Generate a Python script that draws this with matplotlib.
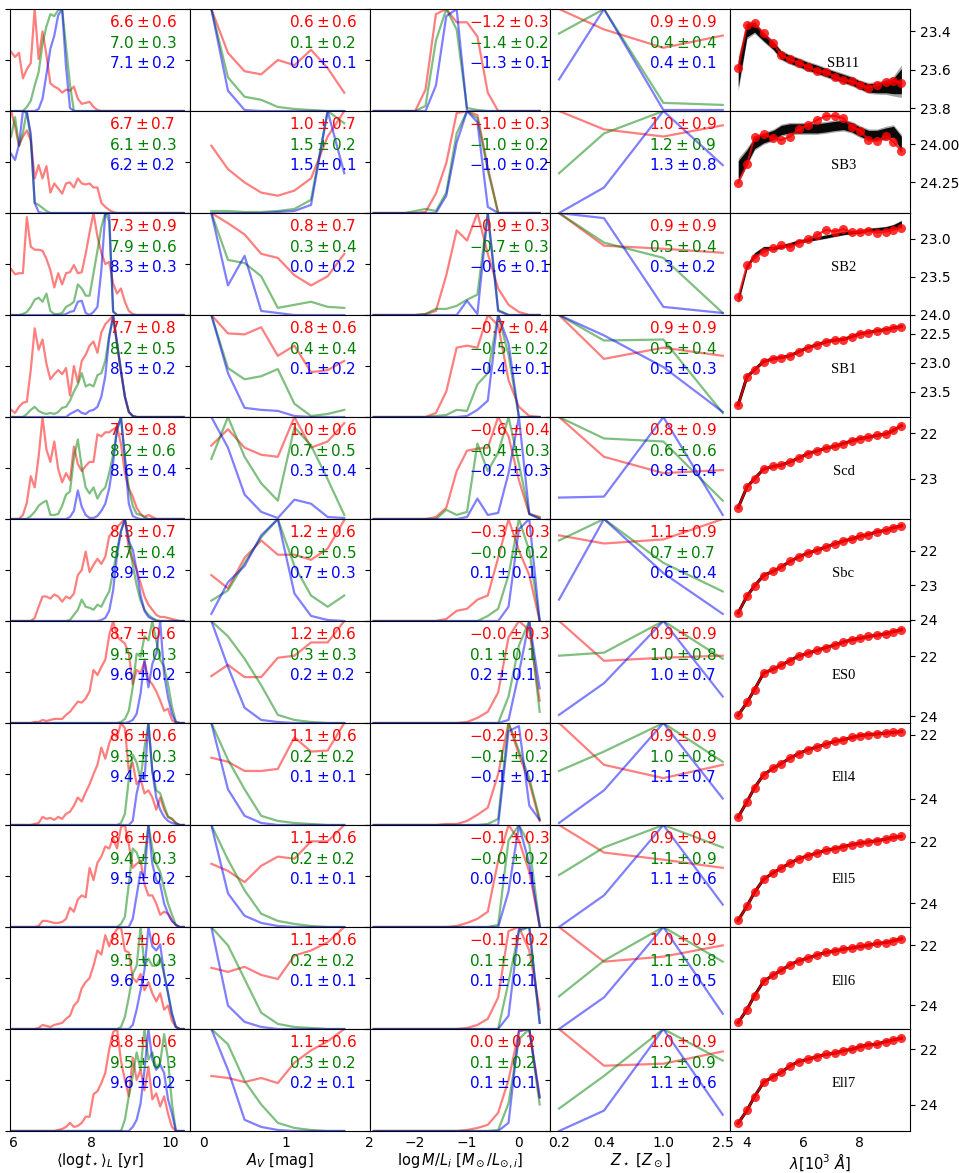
import matplotlib
matplotlib.use("Agg")
import matplotlib.pyplot as plt
from matplotlib.ticker import NullLocator

# ---------------- grids ----------------
age_grid = [5.95, 6.05, 6.15, 6.25, 6.35, 6.45, 6.55, 6.65, 6.75, 6.85,
            6.95, 7.05, 7.15, 7.25, 7.35, 7.45, 7.55, 7.65, 7.75, 7.85,
            7.95, 8.05, 8.15, 8.25, 8.35, 8.45, 8.55, 8.65, 8.75, 8.85,
            8.95, 9.05, 9.15, 9.25, 9.35, 9.45, 9.55, 9.65, 9.75, 9.85,
            9.95, 10.05, 10.15, 10.25, 10.35]
av_grid = [0.1, 0.3, 0.5, 0.7, 0.9, 1.1, 1.3, 1.5, 1.7]
ml_grid = [-2.8, -2.6, -2.4, -2.2, -2.0, -1.8, -1.6, -1.4, -1.2, -1.0,
           -0.8, -0.6, -0.4, -0.2, 0.0, 0.2, 0.4]
z_grid = [0.2, 0.4, 1.0, 2.5]
lam_grid = [3.69, 4.0, 4.27, 4.59, 4.94, 5.22, 5.53, 5.84, 6.16, 6.5,
            6.81, 7.12, 7.43, 7.73, 8.03, 8.32, 8.62, 8.94, 9.21, 9.49]

names = ["SB11", "SB3", "SB2", "SB1", "Scd", "Sbc", "ES0", "Ell4", "Ell5", "Ell6", "Ell7"]

# ---------------- column 1: <log t*>_L ----------------
age_red = [
 [0.58,0.53,0.57,0.32,0.41, 0.47,1.00,0.51,0.78,0.55, 0.27,0.24,0.22,0.18,0.21, 0.20,0.24,0.12,0.07,0.08,
  0.09,0.04,0.01,0,0, 0,0,0,0,0, 0,0,0,0,0, 0,0,0,0,0, 0,0,0,0,0],
 [1.00,0.85,0.66,0.75,0.81, 0.71,0.34,0.47,0.34,0.46, 0.20,0.29,0.24,0.19,0.29, 0.30,0.25,0.34,0.29,0.28,
  0.29,0.25,0.25,0.10,0.06, 0.03,0.01,0,0,0, 0,0,0,0,0, 0,0,0,0,0, 0,0,0,0,0],
 [0.45,0.40,0.41,0.41,0.96, 0.67,0.64,0.64,0.63,0.55, 0.44,0.27,0.41,0.30,0.41, 0.42,0.49,0.41,0.42,0.60,
  0.81,1.00,0.77,0.61,0.50, 0.52,0.31,0.21,0.26,0.13, 0.04,0.01,0,0,0, 0,0,0,0,0, 0,0,0,0,0],
 [0.07,0.04,0.10,0.14,0.15, 0.46,0.87,0.66,0.76,0.52, 0.37,0.42,0.46,0.42,0.48, 0.21,0.50,0.34,0.55,0.61,
  0.70,0.74,0.63,0.83,0.91, 0.95,1.00,0.72,0.45,0.20, 0.05,0.01,0,0,0, 0,0,0,0,0, 0,0,0,0,0],
 [0,0,0,0.04,0.16, 0.42,0.31,0.61,1.00,0.68, 0.56,0.76,0.49,0.36,0.45, 0.38,0.71,0.54,0.47,0.52,
  0.56,0.56,0.83,0.81,0.85, 0.85,0.88,0.90,0.74,0.45, 0.30,0.22,0.11,0.05,0.02, 0.04,0.02,0,0,0, 0,0,0,0,0],
 [0,0,0,0,0, 0,0.03,0.14,0.24,0.24, 0.22,0.26,0.24,0.19,0.24, 0.22,0.27,0.45,0.50,0.68,
  0.48,0.55,0.61,0.56,0.63, 0.83,0.88,0.92,0.96,1.00, 0.70,0.60,0.50,0.37,0.24, 0.16,0.11,0.06,0.04,0.04, 0.03,0.02,0.01,0,0],
 [0,0,0,0,0, 0,0.01,0.01,0.03,0.02, 0.03,0.04,0.04,0.04,0.08, 0.11,0.16,0.21,0.20,0.24,
  0.31,0.52,0.47,0.55,0.62, 0.86,1.00,0.85,0.81,0.78, 0.68,0.38,0.52,0.49,0.60, 0.42,0.38,0.31,0.22,0.12, 0.14,0.03,0,0,0],
 [0,0,0,0,0, 0,0.01,0.02,0.08,0.06, 0.07,0.05,0.08,0.06,0.11, 0.13,0.19,0.27,0.23,0.32,
  0.40,0.50,0.59,0.76,0.65, 0.80,0.90,0.86,1.00,0.95, 0.53,0.61,0.40,0.45,0.31, 0.34,0.27,0.15,0.27,0.15, 0.08,0.06,0.02,0,0],
 [0,0,0,0,0, 0,0,0.01,0.06,0.06, 0.05,0.04,0.04,0.05,0.08, 0.19,0.15,0.27,0.31,0.29,
  0.58,0.46,0.63,0.69,0.79, 0.77,0.87,0.77,0.98,1.00, 0.81,0.58,0.62,0.65,0.42, 0.31,0.31,0.23,0.12,0.15, 0.13,0.06,0.02,0,0],
 [0,0,0,0,0, 0,0,0.01,0.04,0.03, 0.02,0.04,0.05,0.06,0.10, 0.13,0.23,0.27,0.40,0.46,
  0.50,0.62,0.77,0.73,0.92, 0.81,0.92,0.98,1.00,0.77, 0.75,0.50,0.46,0.54,0.38, 0.46,0.35,0.27,0.35,0.19, 0.23,0.08,0.02,0,0],
 [0,0,0,0,0, 0,0,0,0,0, 0,0,0.01,0.02,0.04, 0.08,0.04,0.05,0.08,0.14,
  0.14,0.36,0.39,0.47,0.57, 0.80,0.97,1.00,0.69,0.50, 0.34,0.72,0.50,0.60,0.40, 0.63,0.31,0.37,0.24,0.34, 0.17,0.04,0,0,0],
]
age_green = [
 [0,0,0,0,0.04, 0.10,0.25,0.38,0.66,0.83, 0.95,0.93,0.99,1.00,0.63, 0.26,0,0,0,0,
  0,0,0,0,0, 0,0,0,0,0, 0,0,0,0,0, 0,0,0,0,0, 0,0,0,0,0],
 [0.75,0.94,0.66,0.79,1.00, 0.72,0.10,0.08,0.05,0.02, 0,0,0,0,0, 0,0,0,0,0,
  0,0,0,0,0, 0,0,0,0,0, 0,0,0,0,0, 0,0,0,0,0, 0,0,0,0,0],
 [0,0,0,0.01,0.03, 0.08,0.15,0.17,0.13,0.21, 0.04,0.01,0.01,0.02,0.08, 0.10,0.13,0.30,0.26,0.19,
  0.19,0.41,0.63,0.86,1.00, 0.92,0.04,0,0,0, 0,0,0,0,0, 0,0,0,0,0, 0,0,0,0,0],
 [0,0,0,0,0.03, 0.07,0.10,0.06,0.04,0.03, 0.04,0.03,0.05,0.09,0.10, 0.16,0.25,0.32,0.43,0.30,
  0.32,0.30,0.41,0.43,0.55, 0.80,0.97,0.72,0.45,0.20, 0.05,0.01,0,0,0, 0,0,0,0,0, 0,0,0,0,0],
 [0,0,0,0,0, 0.03,0.07,0.13,0.16,0.18, 0.04,0.04,0.05,0.13,0.24, 0.27,0.60,0.78,0.51,0.31,
  0.25,0.31,0.20,0.27,0.31, 0.45,0.63,0.87,1.00,0.60, 0.30,0.13,0.05,0.04,0.02, 0,0,0,0,0, 0,0,0,0,0],
 [0,0,0,0,0, 0,0,0,0,0, 0,0,0,0,0, 0.01,0.06,0.11,0.21,0.14,
  0.13,0.11,0.16,0.14,0.22, 0.29,0.48,0.70,0.88,1.00, 0.80,0.55,0.35,0.20,0.11, 0.06,0.03,0.01,0,0, 0,0,0,0,0],
 [0,0,0,0,0, 0,0,0,0,0, 0,0,0,0,0, 0,0,0,0,0,
  0,0,0,0,0, 0,0,0,0.01,0.04, 0.12,0.35,0.68,0.65,0.85, 0.81,1.00,0.81,0.62,0.55, 0.38,0.16,0.01,0,0],
 [0,0,0,0,0, 0,0,0,0,0, 0,0,0,0,0, 0,0,0,0,0,
  0,0,0,0,0, 0,0,0,0.02,0.11, 0.45,0.69,0.61,0.45,0.76, 1.00,0.53,0.34,0.31,0.19, 0.08,0.06,0.02,0,0],
 [0,0,0,0,0, 0,0,0,0,0, 0,0,0,0,0, 0,0,0,0,0,
  0,0,0,0,0, 0,0,0,0.03,0.10, 0.42,0.77,0.73,0.62,0.69, 1.00,0.77,0.62,0.54,0.38, 0.23,0.12,0.02,0,0],
 [0,0,0,0,0, 0,0,0,0,0, 0,0,0,0,0, 0,0,0,0,0,
  0,0,0,0,0, 0,0,0,0.02,0.12, 0.31,0.54,0.62,1.00,0.62, 0.69,0.62,0.62,0.69,0.54, 0.35,0.15,0.02,0,0],
 [0,0,0,0,0, 0,0,0,0,0, 0,0,0,0,0, 0,0,0,0,0,
  0,0,0,0,0, 0,0,0,0,0.11, 0.34,0.54,0.77,0.60,1.00, 0.70,0.77,0.62,0.67,0.95, 0.70,0.27,0,0,0],
]
age_blue = [
 [0,0,0,0,0, 0,0,0.02,0.12,0.36, 0.61,0.74,0.94,1.00,0.43, 0.03,0,0,0,0,
  0,0,0,0,0, 0,0,0,0,0, 0,0,0,0,0, 0,0,0,0,0, 0,0,0,0,0],
 [0.58,0.52,0.67,1.00,0.98, 0.78,0.10,0.01,0,0, 0,0,0,0,0, 0,0,0,0,0,
  0,0,0,0,0, 0,0,0,0,0, 0,0,0,0,0, 0,0,0,0,0, 0,0,0,0,0],
 [0,0,0,0,0, 0,0,0,0,0, 0,0,0,0,0.01, 0.03,0.04,0.13,0.14,0.02,
  0,0.03,0.08,0.44,1.00, 0.98,0.03,0,0,0, 0,0,0,0,0, 0,0,0,0,0, 0,0,0,0,0],
 [0,0,0,0,0, 0,0,0,0,0, 0,0,0,0,0, 0.03,0.05,0.07,0.04,0.03,
  0.06,0.07,0.10,0.20,0.40, 0.78,1.00,0.72,0.45,0.20, 0.05,0.01,0,0,0, 0,0,0,0,0, 0,0,0,0,0],
 [0,0,0,0,0, 0,0,0,0,0, 0,0,0,0,0, 0.02,0.08,0.28,0.12,0.04,
  0.01,0.01,0.03,0.08,0.15, 0.30,0.55,0.88,1.00,0.60, 0.15,0.03,0.01,0,0, 0,0,0,0,0, 0,0,0,0,0],
 [0,0,0,0,0, 0,0,0,0,0, 0,0,0,0,0, 0,0,0,0,0,
  0,0,0,0.01,0.03, 0.10,0.30,0.65,0.88,1.00, 0.78,0.70,0.50,0.25,0.10, 0.04,0.02,0,0,0, 0,0,0,0,0],
 [0,0,0,0,0, 0,0,0,0,0, 0,0,0,0,0, 0,0,0,0,0,
  0,0,0,0,0, 0,0,0,0,0, 0.01,0.03,0.09,0.29,0.62, 0.35,0.58,0.68,1.00,0.48, 0.25,0.09,0.01,0,0],
 [0,0,0,0,0, 0,0,0,0,0, 0,0,0,0,0, 0,0,0,0,0,
  0,0,0,0,0, 0,0,0,0,0, 0,0.04,0.31,0.47,0.45, 1.00,0.52,0.27,0.15,0.08, 0.04,0.02,0.01,0,0],
 [0,0,0,0,0, 0,0,0,0,0, 0,0,0,0,0, 0,0,0,0,0,
  0,0,0,0,0, 0,0,0,0,0, 0,0.08,0.31,0.54,0.50, 1.00,0.62,0.46,0.42,0.23, 0.13,0.06,0.02,0,0],
 [0,0,0,0,0, 0,0,0,0,0, 0,0,0,0,0, 0,0,0,0,0,
  0,0,0,0,0, 0,0,0,0,0, 0,0.04,0.19,0.38,0.58, 1.00,0.81,0.77,0.83,0.54, 0.35,0.15,0.02,0,0],
 [0,0,0,0,0, 0,0,0,0,0, 0,0,0,0,0, 0,0,0,0,0,
  0,0,0,0,0, 0,0,0,0,0, 0,0.04,0.11,0.27,0.60, 1.00,0.70,0.60,0.65,0.57, 0.31,0.17,0,0,0],
]

# ---------------- column 2: A_V ----------------
av_red = [
 [1.0,0.57,0.39,0.36,0.5,0.45,0.6,0.42,0.18],
 [0.66,0.43,0.3,0.2,0.17,0.22,0.34,0.75,1.0],
 [1.0,0.9,0.79,0.6,0.56,0.39,0.29,0.38,0.6],
 [1.0,0.82,0.81,0.88,0.6,0.7,0.44,0.46,0.55],
 [0.72,0.88,0.7,0.63,0.61,1.0,0.7,0.76,0.94],
 [0.45,0.32,0.62,0.79,0.65,0.65,0.6,0.71,0.99],
 [0.46,0.57,0.45,0.45,0.64,0.66,0.79,0.79,1.0],
 [0.66,0.62,0.53,0.53,0.55,0.86,0.72,0.73,1.0],
 [0.62,0.55,0.44,0.6,0.69,0.67,0.84,0.84,1.0],
 [0.6,0.56,0.61,0.53,0.49,0.72,0.77,0.85,1.0],
 [0.54,0.52,0.48,0.52,0.47,0.67,0.79,0.88,1.0],
]
av_green = [
 [1.0,0.33,0.14,0.11,0.04,0.02,0.01,0,0],
 [0.02,0.02,0.01,0.01,0.02,0.04,0.13,1.0,0.88],
 [1.0,0.54,0.51,0.38,0.07,0.1,0.13,0.08,0.07],
 [1.0,0.48,0.37,0.4,0.47,0.13,0.01,0.03,0.07],
 [0.59,1.0,0.61,0.35,0.18,0.9,0.72,0.39,0.04],
 [0.2,0.3,0.57,0.82,1.0,0.54,0.25,0.14,0.25],
 [1.0,0.85,0.63,0.37,0.08,0.03,0.01,0,0],
 [1.0,0.64,0.35,0.09,0.04,0.02,0.01,0,0],
 [1.0,0.66,0.36,0.13,0.06,0.03,0.01,0,0],
 [1.0,0.82,0.49,0.16,0.05,0.02,0.01,0,0],
 [1.0,0.85,0.49,0.26,0.08,0.03,0.01,0,0],
]
av_blue = [
 [1.0,0.2,0.01,0,0,0,0,0,0],
 [0,0,0,0,0.01,0.02,0.08,1.0,0.39],
 [1.0,0.29,0.58,0.04,0.02,0,0,0,0],
 [1.0,0.43,0.09,0.07,0.06,0.01,0,0,0],
 [1.0,0.7,0.24,0.07,0.01,0.19,0.15,0.02,0.01],
 [0.07,0.38,0.54,0.84,1.0,0.27,0.05,0.01,0],
 [1.0,0.55,0.15,0.03,0.01,0,0,0,0],
 [1.0,0.35,0.09,0.02,0,0,0,0,0],
 [1.0,0.33,0.11,0.04,0.01,0,0,0,0],
 [1.0,0.23,0.07,0.02,0,0,0,0,0],
 [1.0,0.6,0.11,0.04,0.01,0,0,0,0],
]

# ---------------- column 3: log M/L ----------------
ml_red = [
 [0,0,0,0,0,0.21,0.95,1.0,0.87,0.87,0.73,0.18,0,0,0,0,0],
 [0,0,0,0,0,0.01,0.19,0.49,0.98,1.0,0.96,0.45,0,0,0,0,0],
 [0,0,0,0,0,0.01,0.04,0.39,0.83,0.73,1.0,0.6,0.26,0.1,0.03,0,0],
 [0,0,0,0,0,0,0.04,0.25,0.68,0.7,0.68,1.0,0.9,0.36,0.1,0.01,0],
 [0,0,0,0,0,0,0.02,0.11,0.47,0.67,0.69,0.7,1.0,0.81,0.38,0.05,0.02],
 [0,0,0,0,0,0,0,0.02,0.1,0.12,0.21,0.25,0.62,1.0,0.69,0.45,0],
 [0,0,0,0,0,0,0,0,0,0.01,0.05,0.11,0.3,0.84,1.0,0.91,0.22],
 [0,0,0,0,0,0,0,0.01,0.01,0.04,0.1,0.17,0.5,1.0,0.69,0.42,0.04],
 [0,0,0,0,0,0,0,0,0.01,0.04,0.08,0.15,0.65,1.0,0.85,0.54,0.01],
 [0,0,0,0,0,0,0,0,0,0.01,0.04,0.1,0.31,0.96,1.0,0.77,0.19],
 [0,0,0,0,0,0,0,0,0,0.01,0.03,0.06,0.18,0.5,0.98,1.0,0.33],
]
ml_green = [
 [0,0,0,0,0,0.05,0.69,1.0,0.8,0.03,0.01,0,0,0,0,0,0],
 [0,0,0,0,0.02,0.04,0.02,0.2,0.78,1.0,0.93,0.42,0,0,0,0,0],
 [0,0,0,0,0,0.01,0.06,0.06,0.09,0.15,0.2,1.0,0.05,0,0,0,0],
 [0,0,0,0,0,0,0.01,0.02,0.07,0.06,0.32,0.43,1.0,0.61,0,0,0],
 [0,0,0,0,0,0,0,0.09,0.04,0.07,0.74,0.47,0.65,1.0,0.54,0.05,0.01],
 [0,0,0,0,0,0,0,0,0,0,0,0.05,0.12,0.45,1.0,0.69,0],
 [0,0,0,0,0,0,0,0,0,0,0,0,0,0.26,0.76,1.0,0.11],
 [0,0,0,0,0,0,0,0,0,0,0,0.01,0.06,1.0,0.73,0.46,0.06],
 [0,0,0,0,0,0,0,0,0,0,0,0,0.02,0.85,1.0,0.81,0.01],
 [0,0,0,0,0,0,0,0,0,0,0,0,0,0.46,0.96,1.0,0.06],
 [0,0,0,0,0,0,0,0,0,0,0,0,0.01,0.27,0.9,1.0,0.26],
]
ml_blue = [
 [0,0,0,0,0,0,0.25,0.93,1.0,0,0,0,0,0,0,0,0],
 [0,0,0,0,0,0,0,0.17,0.69,1.0,0.89,0.06,0,0,0,0,0],
 [0,0,0,0,0,0,0,0,0,0.14,0.01,1.0,0.04,0,0,0,0],
 [0,0,0,0,0,0,0,0,0,0.01,0.07,0.16,1.0,0.72,0,0,0],
 [0,0,0,0,0,0,0,0,0,0.02,0.2,0.04,0.06,0.45,1.0,0.05,0],
 [0,0,0,0,0,0,0,0,0,0,0,0,0,0.14,0.9,1.0,0],
 [0,0,0,0,0,0,0,0,0,0,0,0,0,0.03,0.49,1.0,0.34],
 [0,0,0,0,0,0,0,0,0,0,0,0,0,0.92,0.97,0.19,0.05],
 [0,0,0,0,0,0,0,0,0,0,0,0,0,0.35,1.0,0.62,0.01],
 [0,0,0,0,0,0,0,0,0,0,0,0,0,0.13,0.98,1.0,0.06],
 [0,0,0,0,0,0,0,0,0,0,0,0,0,0.08,0.98,1.0,0.33],
]

# ---------------- column 4: Z* ----------------
z_red = [[1.0,0.8,0.62,0.74],[1.0,0.82,0.75,0.86],[1.0,0.68,0.65,0.61],[1.0,0.57,0.68,0.6],
         [1.0,0.61,0.45,0.48],[0.84,0.76,0.8,1.0],[1.0,0.61,0.64,0.66],[1.0,0.59,0.46,0.59],
         [1.0,0.73,0.66,0.58],[1.0,0.66,0.71,0.82],[1.0,0.64,0.66,0.78]]
z_green = [[0.76,1.0,0.08,0.06],[0.39,0.78,1.0,1.0],[1.0,0.71,0.56,0.02],[1.0,0.75,0.76,0.04],
           [1.0,0.79,0.76,0.18],[0.79,1.0,0.57,0.29],[0.66,0.69,1.0,0.63],[0.53,0.72,1.0,0.62],
           [0.51,0.78,1.0,0.78],[0.32,0.67,1.0,0.66],[0.22,0.54,1.0,0.69]]
z_blue = [[0.31,1.0,0.01,0.01],[0.0,0.25,1.0,0.47],[1.0,0.95,0.08,0.02],[1.0,0.8,0.49,0.05],
          [0.21,0.22,1.0,0.04],[0.21,1.0,0.47,0.07],[0.08,0.39,1.0,0.26],[0.02,0.34,1.0,0.26],
          [0.0,0.31,1.0,0.22],[0.0,0.31,1.0,0.15],[0.0,0.2,1.0,0.16]]

# ---------------- column texts (mean, sigma) ----------------
age_txt = [[("6.6","0.6"),("7.0","0.3"),("7.1","0.2")],[("6.7","0.7"),("6.1","0.3"),("6.2","0.2")],
           [("7.3","0.9"),("7.9","0.6"),("8.3","0.3")],[("7.7","0.8"),("8.2","0.5"),("8.5","0.2")],
           [("7.9","0.8"),("8.2","0.6"),("8.6","0.4")],[("8.3","0.7"),("8.7","0.4"),("8.9","0.2")],
           [("8.7","0.6"),("9.5","0.3"),("9.6","0.2")],[("8.6","0.6"),("9.3","0.3"),("9.4","0.2")],
           [("8.6","0.6"),("9.4","0.3"),("9.5","0.2")],[("8.7","0.6"),("9.5","0.3"),("9.6","0.2")],
           [("8.8","0.6"),("9.5","0.3"),("9.6","0.2")]]
av_txt = [[("0.6","0.6"),("0.1","0.2"),("0.0","0.1")],[("1.0","0.7"),("1.5","0.2"),("1.5","0.1")],
          [("0.8","0.7"),("0.3","0.4"),("0.0","0.2")],[("0.8","0.6"),("0.4","0.4"),("0.1","0.2")],
          [("1.0","0.6"),("0.7","0.5"),("0.3","0.4")],[("1.2","0.6"),("0.9","0.5"),("0.7","0.3")],
          [("1.2","0.6"),("0.3","0.3"),("0.2","0.2")],[("1.1","0.6"),("0.2","0.2"),("0.1","0.1")],
          [("1.1","0.6"),("0.2","0.2"),("0.1","0.1")],[("1.1","0.6"),("0.2","0.2"),("0.1","0.1")],
          [("1.1","0.6"),("0.3","0.2"),("0.2","0.1")]]
ml_txt = [[("-1.2","0.3"),("-1.4","0.2"),("-1.3","0.1")],[("-1.0","0.3"),("-1.0","0.2"),("-1.0","0.2")],
          [("-0.9","0.3"),("-0.7","0.3"),("-0.6","0.1")],[("-0.7","0.4"),("-0.5","0.2"),("-0.4","0.1")],
          [("-0.6","0.4"),("-0.4","0.3"),("-0.2","0.3")],[("-0.3","0.3"),("-0.0","0.2"),("0.1","0.1")],
          [("-0.0","0.3"),("0.1","0.1"),("0.2","0.1")],[("-0.2","0.3"),("-0.1","0.2"),("-0.1","0.1")],
          [("-0.1","0.3"),("-0.0","0.2"),("0.0","0.1")],[("-0.1","0.2"),("0.1","0.2"),("0.1","0.1")],
          [("0.0","0.2"),("0.1","0.2"),("0.1","0.1")]]
z_txt = [[("0.9","0.9"),("0.4","0.4"),("0.4","0.1")],[("1.0","0.9"),("1.2","0.9"),("1.3","0.8")],
         [("0.9","0.9"),("0.5","0.4"),("0.3","0.2")],[("0.9","0.9"),("0.5","0.4"),("0.5","0.3")],
         [("0.8","0.9"),("0.6","0.6"),("0.8","0.4")],[("1.1","0.9"),("0.7","0.7"),("0.6","0.4")],
         [("0.9","0.9"),("1.0","0.8"),("1.0","0.7")],[("0.9","0.9"),("1.0","0.8"),("1.1","0.7")],
         [("0.9","0.9"),("1.1","0.9"),("1.1","0.6")],[("1.0","0.9"),("1.1","0.8"),("1.0","0.5")],
         [("1.0","0.9"),("1.2","0.9"),("1.1","0.6")]]

# ---------------- column 5: spectra (magnitudes) ----------------
spec_obs = [
 [23.594,23.369,23.36,23.412,23.464,23.525,23.547,23.565,23.585,23.606,23.611,23.637,23.655,23.66,23.68,23.695,23.68,23.663,23.658,23.669],
 [24.253,24.133,23.956,23.937,23.963,23.974,23.952,23.904,23.876,23.843,23.817,23.817,23.832,23.887,23.915,23.974,23.98,23.948,23.985,24.046],
 [23.772,23.351,23.254,23.175,23.122,23.088,23.114,23.057,23.004,22.947,22.882,22.904,22.872,22.912,22.904,22.895,22.917,22.904,22.882,22.851],
 [23.72,23.24,23.12,22.98,22.93,22.91,22.88,22.81,22.74,22.69,22.64,22.61,22.6,22.55,22.5,22.48,22.45,22.43,22.4,22.38],
 [23.63,23.18,23.0,22.79,22.73,22.7,22.63,22.55,22.45,22.39,22.33,22.29,22.23,22.17,22.12,22.09,22.05,22.02,21.94,21.84],
 [23.8,23.32,23.02,22.72,22.59,22.47,22.31,22.18,22.07,21.98,21.89,21.8,21.72,21.66,21.58,21.53,21.45,21.41,21.33,21.28],
 [23.96,23.54,23.11,22.57,22.43,22.3,22.15,22.0,21.91,21.81,21.72,21.63,21.54,21.46,21.41,21.35,21.31,21.26,21.19,21.13],
 [24.56,24.09,23.65,23.25,23.04,22.9,22.73,22.59,22.47,22.38,22.3,22.21,22.16,22.09,22.03,22.0,21.98,21.95,21.93,21.91],
 [24.55,24.09,23.64,23.22,23.0,22.85,22.69,22.55,22.45,22.36,22.27,22.22,22.15,22.09,22.04,22.0,21.96,21.91,21.85,21.82],
 [24.58,24.15,23.68,23.21,22.99,22.84,22.65,22.52,22.43,22.32,22.24,22.19,22.13,22.09,22.04,22.0,21.94,21.91,21.85,21.78],
 [24.66,24.2,23.7,23.19,22.98,22.83,22.6,22.44,22.36,22.26,22.18,22.14,22.05,22.0,21.9,21.84,21.82,21.72,21.66,21.6],
]
spec_model_top = [
 [23.62,23.395,23.38,23.43,23.475,23.525,23.547,23.563,23.582,23.598,23.615,23.63,23.645,23.66,23.68,23.695,23.695,23.69,23.685,23.66],
 [24.17,24.083,23.995,23.963,23.941,23.909,23.898,23.898,23.898,23.898,23.891,23.882,23.876,23.891,23.92,23.941,23.941,23.93,23.92,23.995],
 [23.803,23.364,23.21,23.123,23.123,23.101,23.07,23.035,23.013,22.991,22.97,22.947,22.925,22.912,22.904,22.882,22.873,22.86,22.838,22.803],
]
spec_band = [
 [0.07,0.035,0.025,0.02,0.02,0.02,0.02,0.02,0.02,0.02,0.02,0.02,0.02,0.02,0.02,0.022,0.025,0.03,0.04,0.065],
 [0.06,0.045,0.035,0.03,0.03,0.03,0.03,0.03,0.03,0.03,0.03,0.03,0.03,0.03,0.03,0.03,0.03,0.035,0.035,0.045],
 [0.04,0.03,0.025,0.02,0.02,0.02,0.02,0.02,0.02,0.02,0.02,0.02,0.02,0.02,0.02,0.02,0.02,0.02,0.025,0.04],
]
spec_ylim = [(23.815,23.285),(24.45,23.785),(24.005,22.66),(23.93,22.18),(23.88,21.65),(24.04,21.08),
             (24.22,20.84),(24.81,21.64),(24.77,21.45),(24.80,21.39),(24.94,21.27)]
spec_yticks = [[23.4,23.6,23.8],[24.0,24.25],[23.0,23.5,24.0],[22.5,23.0,23.5],[22,23],[22,23,24],
               [22,24],[22,24],[22,24],[22,24],[22,24]]
spec_ylabels = [["23.4","23.6","23.8"],["24.00","24.25"],["23.0","23.5","24.0"],["22.5","23.0","23.5"],
                ["22","23"],["22","23","24"],["22","24"],["22","24"],["22","24"],["22","24"],["22","24"]]

# ---------------- figure ----------------
plt.rcParams['font.family'] = ['DejaVu Sans']
fig, axes = plt.subplots(11, 5, figsize=(9.59, 11.73), dpi=100)
fig.subplots_adjust(left=0.0104, right=0.949, top=0.9923, bottom=0.0358, wspace=0, hspace=0)

cols = ['red', 'green', 'blue']
lw = 1.6
al = 0.5
tfs = 11
xlims = [(5.92, 10.51), (-0.157, 2.01), (-2.87, 0.6), (0.174, 2.8), (3.4, 9.8)]
xt = [[6, 8, 10], [0, 1, 2], [-2, -1, 0], [0.2, 0.4, 1.0, 2.5], [4, 6, 8]]
xtl = [["6", "8", "10"], ["0", "1", "2"], ["\u22122", "\u22121", "0"], ["0.2", "0.4", "1.0", "2.5"], ["4", "6", "8"]]
xlabels = [r'$\langle {\rm log} t_\star\rangle_L$ [yr]', r'$A_V$ [mag]',
           r'$\log M/L_i$ $[M_\odot/L_{\odot,i}]$', r'$Z_\star$ $[Z_\odot]$', r'$\lambda [10^3\ \AA]$']

dist = [(age_grid, age_red, age_green, age_blue, age_txt),
        (av_grid, av_red, av_green, av_blue, av_txt),
        (ml_grid, ml_red, ml_green, ml_blue, ml_txt),
        (z_grid, z_red, z_green, z_blue, z_txt)]

for r in range(11):
    for c in range(5):
        ax = axes[r, c]
        if c < 4:
            g, rr, gg, bb, tx = dist[c]
            for ys, col in zip((rr[r], gg[r], bb[r]), cols):
                ax.plot(g, ys, color=col, alpha=al, lw=lw)
            if c == 3:
                ax.set_xscale('log')
                ax.xaxis.set_minor_locator(NullLocator())
            ax.set_ylim(0, 1)
            ax.set_yticks([0, 0.5, 1])
            ax.tick_params(axis='y', labelleft=False, labelsize=10)
            for k, (m, s) in enumerate(tx[r]):
                ax.text(0.548, [0.87, 0.67, 0.47][k], r'$%s \pm %s$' % (m, s), color=cols[k],
                        transform=ax.transAxes, ha='left', va='center', fontsize=tfs)
        else:
            if r < 3:
                top = spec_model_top[r]
                w = spec_band[r]
                lo = [a - b for a, b in zip(top, w)]
                hi = [a + b for a, b in zip(top, w)]
                lo2 = [a - 1.3 * b for a, b in zip(top, w)]
                hi2 = [a + 1.3 * b for a, b in zip(top, w)]
                ax.fill_between(lam_grid, lo2, hi2, color='black', alpha=0.35, lw=0)
                ax.fill_between(lam_grid, lo, hi, color='black', alpha=0.95, lw=0)
            else:
                ax.plot(lam_grid, spec_obs[r], color='black', lw=2.2)
            ax.plot(lam_grid, spec_obs[r], 'o-', color='red', alpha=0.8, lw=1.5, ms=6.5, mew=0)
            ax.set_ylim(*spec_ylim[r])
            ax.yaxis.tick_right()
            ax.set_yticks(spec_yticks[r])
            ax.set_yticklabels(spec_ylabels[r])
            ax.tick_params(axis='y', labelsize=10)
            ax.text(0.63, 0.47, names[r], transform=ax.transAxes, ha='center', va='center',
                    fontsize=10.5, family='Liberation Serif')
        ax.set_xlim(*xlims[c])
        ax.set_xticks(xt[c])
        if r < 10:
            ax.tick_params(axis='x', length=0, labelbottom=False)
        else:
            ax.set_xticklabels(xtl[c])
            ax.tick_params(axis='x', length=0, pad=3.5, labelsize=10)
            ax.set_xlabel(xlabels[c], fontsize=10.5, labelpad=1)

fig.savefig('out.png', dpi=100)
